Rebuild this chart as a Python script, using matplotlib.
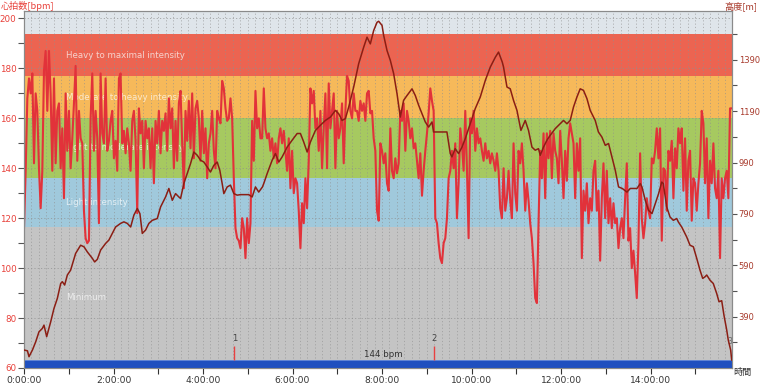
import numpy as np
import matplotlib
matplotlib.use("Agg")
import matplotlib.pyplot as plt
from matplotlib.ticker import FixedLocator, MultipleLocator, FuncFormatter

plt.rcParams['font.family'] = ['DejaVu Sans', 'Noto Sans CJK JP']

# ---------------- data ----------------
T_END_MIN = 948.8  # total duration in minutes (~15:48:48)

hr_bpm = [
    116,139,168,176,170,178,142,170,163,140,124,139,179,187,163,187,170,139,176,142,
    163,166,140,156,128,170,147,163,140,152,166,181,143,163,152,150,123,112,110,111,
    160,178,147,163,152,118,178,154,150,176,147,151,159,163,144,151,139,176,178,150,
    155,146,156,150,139,159,163,151,122,164,154,
    159,140,159,152,156,140,156,134,159,150,163,146,159,155,162,147,168,156,164,140,
    159,143,166,171,150,132,163,151,167,148,170,144,164,167,160,143,163,146,156,136,
    150,154,163,147,140,163,160,158,175,172,164,159,160,168,160,136,116,112,111,108,
    120,116,104,120,110,118,159,143,171,156,160,152,
    152,172,156,152,154,147,152,144,150,142,152,156,150,155,147,139,152,132,147,130,
    136,134,123,108,126,118,136,124,143,172,166,171,156,160,147,163,140,156,170,140,
    174,156,163,170,140,163,152,156,166,142,163,177,175,163,160,170,163,163,159,167,
    163,166,159,170,171,162,163,152,147,123,119,150,
    147,142,146,134,131,156,139,136,144,138,142,163,159,166,147,163,159,152,156,148,
    150,143,136,146,129,139,147,154,162,172,167,163,120,118,110,104,102,110,112,120,
    136,139,147,140,150,120,134,156,150,139,163,140,112,160,154,163,147,156,150,152,
    147,143,150,144,147,142,146,143,139,146,139,124,
    120,140,123,128,139,127,120,150,130,123,147,142,150,139,123,134,127,118,112,102,
    88,86,118,147,136,154,128,154,144,155,136,154,147,144,134,155,143,128,147,135,
    152,158,154,150,128,150,139,152,104,131,123,134,118,128,123,139,143,123,131,103,
    128,142,120,139,118,128,116,126,118,120,108,116,
    120,112,128,142,111,116,100,107,98,88,110,146,120,112,118,128,123,120,144,142,
    147,156,144,156,111,140,139,123,147,143,151,128,148,140,156,150,156,131,152,123,
    143,147,119,136,134,123,134,142,163,158,134,152,120,143,134,150,132,128,139,104,
    136,128,136,139,128,164,164,
]

ele_min = [
    0, 4.6, 6.7, 11.3, 15.7, 20.1, 24.6, 26.8, 30.4, 35.8,
    40.2, 44.7, 49.2, 51.4, 54.5, 58.1, 62.5, 69.2, 75.9, 80.4,
    84.9, 91.6, 94.7, 98.3, 102.7, 109.4, 113.8, 118.4, 122.8, 129.5,
    133.9, 138.5, 143.0, 147.3, 151.9, 155.4, 158.6, 163.0, 167.4, 172.0,
    178.7, 183.1, 189.8, 194.2, 198.8, 203.2, 207.6, 209.9, 214.3, 218.8,
    223.3, 227.7, 232.3, 236.7, 241.1, 245.6, 250.0, 254.5, 259.0, 262.5,
    265.7, 267.9, 272.4, 276.8, 281.3, 285.8, 290.2, 301.3, 305.9, 310.3,
    314.7, 319.7, 321.4, 326.0, 332.7, 337.1, 341.6, 346.1, 352.8, 359.5,
    366.2, 370.6, 375.0, 379.6, 384.0, 390.7, 397.4, 404.1, 410.8, 417.5,
    421.9, 426.4, 430.9, 435.3, 442.0, 448.7, 455.4, 459.9, 464.3, 468.8,
    473.3, 475.5, 480.0, 482.2, 486.7, 491.1, 495.6, 500.1, 504.5, 508.9,
    513.5, 520.2, 524.6, 529.1, 533.6, 538.0, 542.5, 547.0, 549.1, 567.0,
    571.5, 573.7, 578.1, 582.6, 587.2, 591.6, 598.3, 605.0, 611.7, 618.5,
    625.2, 631.9, 636.2, 641.2, 642.9, 647.5, 651.9, 656.3, 660.9, 666.2,
    672.0, 676.4, 681.0, 685.4, 689.8, 692.1, 696.5, 701.1, 705.5, 712.2,
    718.9, 723.3, 727.9, 732.3, 736.7, 741.3, 745.7, 750.1, 754.7, 759.1,
    765.8, 770.1, 774.8, 779.3, 783.7, 788.2, 792.7, 797.1, 802.1, 808.4,
    812.8, 821.8, 826.2, 828.5, 832.9, 837.3, 841.9, 846.3, 850.8, 855.0,
    857.1, 861.7, 866.1, 870.5, 875.1, 877.2, 881.8, 888.5, 892.9, 897.4,
    901.9, 906.3, 909.9, 913.0, 915.3, 919.7, 924.1, 928.7, 931.8, 935.4,
    938.4, 942.1, 944.2, 947.4, 948.8,
]

ele_m = [
    260, 257, 234, 260, 292, 331, 344, 357, 312, 370,
    422, 461, 519, 526, 513, 552, 571, 636, 668, 662,
    642, 617, 603, 613, 649, 675, 688, 714, 739, 753,
    759, 753, 739, 785, 811, 791, 714, 727, 753, 765,
    772, 817, 856, 889, 843, 869, 856, 850, 908, 947,
    986, 1031, 1018, 999, 992, 973, 953, 979, 992, 960,
    908, 869, 895, 902, 869, 863, 865, 865, 856, 895,
    875, 895, 908, 947, 999, 1025, 992, 1012, 1050, 1077,
    1103, 1103, 1070, 1031, 1070, 1115, 1135, 1154, 1167, 1193,
    1180, 1154, 1161, 1206, 1284, 1375, 1439, 1478, 1452, 1504,
    1536, 1540, 1524, 1485, 1426, 1388, 1336, 1258, 1167, 1232,
    1251, 1277, 1251, 1213, 1180, 1148, 1128, 1148, 1109, 1109,
    1025, 1012, 1044, 1025, 1050, 1083, 1141, 1200, 1245, 1310,
    1362, 1400, 1420, 1381, 1362, 1284, 1277, 1232, 1193, 1115,
    1154, 1115, 1050, 1038, 1044, 1018, 1050, 1077, 1096, 1122,
    1141, 1154, 1141, 1154, 1206, 1245, 1277, 1271, 1239, 1193,
    1154, 1109, 1089, 1057, 1064, 1012, 960, 895, 889, 875,
    889, 889, 908, 895, 843, 804, 791, 830, 869, 914,
    908, 817, 778, 765, 772, 759, 739, 700, 668, 662,
    617, 571, 539, 545, 552, 532, 519, 480, 448, 452,
    396, 338, 299, 260, 221,
]

zone_edges = [60, 116.3, 136.3, 160, 177, 193.6]
zone_colors = ['#c4c4c4', '#a0c9dc', '#a6c960', '#f6b95a', '#ec6451']
zone_names = ['Minimum', 'Light intensity', 'Light to moderate intensity',
              'Moderate to heavy intensity', 'Heavy to maximal intensity']
top_color = '#dfe5ea'

lap_min = [282, 550]
lap_labels = ['1', '2']
avg_text = '144 bpm'

HR_MIN, HR_MAX = 60, 203
ALT_MIN, ALT_MAX = 190, 1580

# ---------------- figure ----------------
fig = plt.figure(figsize=(7.6, 3.87), dpi=100)
ax = fig.add_axes([24 / 760, 1 - 368 / 387, (731.7 - 24) / 760, (368 - 11) / 387])
ax.set_xlim(0, T_END_MIN)
ax.set_ylim(HR_MIN, HR_MAX)

# zones
for i, name in enumerate(zone_names):
    lo, hi = zone_edges[i], zone_edges[i + 1]
    ax.axhspan(lo, hi, color=zone_colors[i], lw=0, zorder=0)
    ax.text(56, (lo + hi) / 2, name, color='white', alpha=0.7, fontsize=6.2,
            va='center', ha='left', zorder=2)
ax.axhspan(zone_edges[-1], HR_MAX, color=top_color, lw=0, zorder=0)

# grid
for m in np.arange(10, T_END_MIN, 10):
    ax.axvline(m, color='#8f8f8f', lw=0.7, ls=(0, (1.2, 2.2)), alpha=0.6, zorder=1)
for b in range(80, 201, 20):
    ax.axhline(b, color='#8f8f8f', lw=0.7, ls=(0, (1.2, 2.2)), alpha=0.7, zorder=1)

# bottom blue bar
ax.axhspan(HR_MIN, 63.2, color='#1f4fbf', lw=0, zorder=4)
ax.axhline(63.2, color='#6f8fd8', lw=0.6, zorder=4)

# heart rate
hr_t = np.linspace(0, T_END_MIN, len(hr_bpm))
ax.plot(hr_t, hr_bpm, color='#e2323a', lw=1.5, zorder=3)

# laps
for t, lab in zip(lap_min, lap_labels):
    ax.vlines(t, 63.2, 68.8, color='#e84040', lw=1.0, zorder=4)
    ax.text(t, 72, lab, fontsize=6, color='#444444', ha='center', va='center', zorder=4)
ax.text(T_END_MIN - 3, 70.5, '3', fontsize=5.5, color='#666666', ha='center', va='center', zorder=4)
ax.text(T_END_MIN * 0.508, 65.6, avg_text, fontsize=6.2, color='#333333',
        ha='center', va='center', zorder=4)

# axes styling (left)
ax.yaxis.set_major_locator(MultipleLocator(20))
ax.yaxis.set_minor_locator(MultipleLocator(10))
ax.tick_params(axis='y', which='both', direction='out', length=4, width=0.8,
               color='#555555', labelcolor='#e8403a', labelsize=6.3, pad=1.5)
ax.xaxis.set_major_locator(MultipleLocator(120))
ax.xaxis.set_minor_locator(MultipleLocator(60))
ax.xaxis.set_major_formatter(FuncFormatter(lambda v, p: f"{int(round(v / 60))}:00:00"))
ax.tick_params(axis='x', which='both', direction='out', length=4, width=0.8,
               color='#333333', labelcolor='#333333', labelsize=6.6, pad=2)
for s in ax.spines.values():
    s.set_color('#8a8a8a')
    s.set_linewidth(0.8)

# elevation
ax2 = ax.twinx()
ax2.set_ylim(ALT_MIN, ALT_MAX)
ax2.plot(ele_min, ele_m, color='#8b1e14', lw=1.1, zorder=5)
ax2.yaxis.set_major_locator(FixedLocator([390, 590, 790, 990, 1190, 1390]))
ax2.yaxis.set_minor_locator(FixedLocator([290, 490, 690, 890, 1090, 1290, 1490]))
ax2.tick_params(axis='y', which='both', direction='out', length=3.5, width=0.8,
                color='#555555', labelcolor='#a83a2c', labelsize=6.0, pad=1.5)
for s in ax2.spines.values():
    s.set_color('#8a8a8a')
    s.set_linewidth(0.8)

# axis titles
cjk = ['Noto Sans CJK JP', 'DejaVu Sans']
fig.text(0.001, 1 - 6 / 387, '心拍数[bpm]', color='#e8403a', fontsize=6.6,
         family=cjk, ha='left', va='center')
fig.text(0.997, 1 - 6 / 387, '高度[m]', color='#a83a2c', fontsize=6.6,
         family=cjk, ha='right', va='center')
fig.text(733 / 760, 1 - 373 / 387, '時間', color='#333333', fontsize=6.6,
         family=cjk, ha='left', va='center')

fig.savefig('out.png', dpi=100)
